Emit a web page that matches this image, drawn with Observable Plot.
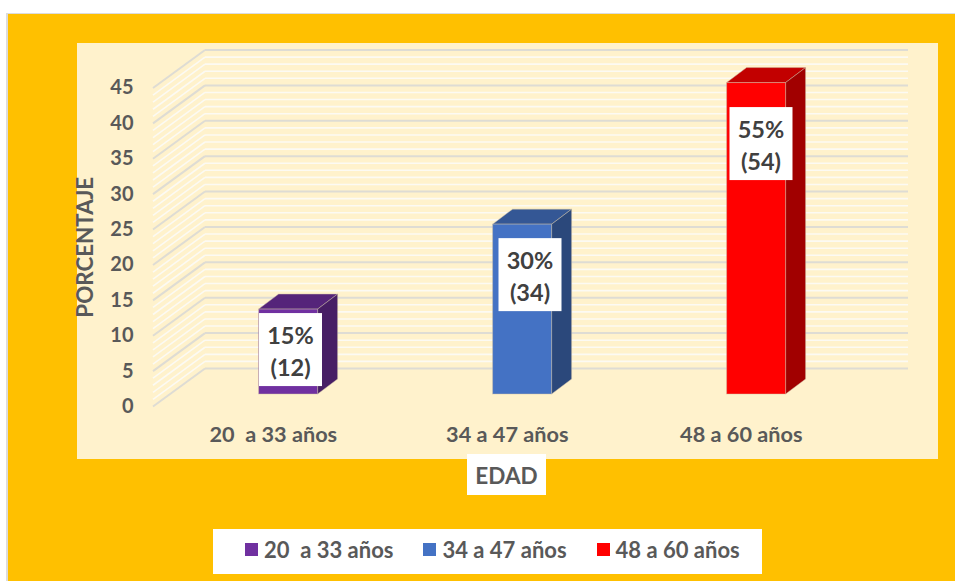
<!DOCTYPE html>
<html lang="es">
<head>
<meta charset="utf-8">
<script src="https://cdn.jsdelivr.net/npm/d3@7"></script>
<script src="https://cdn.jsdelivr.net/npm/@observablehq/plot@0.6"></script>
<style>
  html, body { margin: 0; padding: 0; background: #fff; overflow: hidden; }
  body { width: 955px; height: 581px; position: relative; font-family: Lato, "Open Sans", sans-serif; font-weight: 700; color: #595959; }
  #gold { position: absolute; left: 6px; top: 13px; right: 0; bottom: 0; background: #FFC000; border-left: 2px solid #dcdcdc; border-top: 1px solid #dcdcdc; }
  #panel { position: absolute; left: 77px; top: 43px; width: 861px; height: 416px; background: #FFF2CC; }
  #chart { position: absolute; left: 0; top: 0; }
  #chart svg { display: block; background: transparent; overflow: visible; }
  #xtitle { position: absolute; left: 467px; top: 454px; width: 79px; height: 41px; background: #fff; font-size: 22.5px; line-height: 43px; text-align: center; }
  #legend { position: absolute; left: 213px; top: 529px; width: 517px; height: 41px; padding: 0 0 4px 32px; background: #fff; display: flex; align-items: center; gap: 30px; font-size: 22px; white-space: pre; }
  #legend span.item { display: flex; align-items: center; gap: 6px; }
  #legend i { display: block; width: 13px; height: 13px; }
</style>
</head>
<body>
<div id="gold"></div>
<div id="panel"></div>
<div id="chart"></div>
<div id="xtitle">EDAD</div>
<div id="legend"></div>
<script>
const categories = ["20  a 33 años", "34 a 47 años", "48 a 60 años"];
const values = [12, 24, 44];
const labels = ["15%\n(12)", "30%\n(34)", "55%\n(54)"];
const colors = ["#7030A0", "#4472C4", "#FF0000"];
const yTicks = [0, 5, 10, 15, 20, 25, 30, 35, 40, 45];
const minorTicks = [1,2,3,4,6,7,8,9,11,12,13,14,16,17,18,19,21,22,23,24,26,27,28,29,31,32,33,34,36,37,38,39,41,42,43,44];
const yTitle = "PORCENTAJE";

// Styling of the fake 3D: pixel offsets, not data.
const wall = {front: 153, back: 205, right: 908, rise: 38};
const depth = {dx: 20, dy: -15};
const barShift = {dx: 15.3, dy: -12};
const labelShift = [{dx: 1.9, dy: 40}, {dx: 7.4, dy: 50}, {dx: 4.4, dy: 60.5}];
const labelBox = {w: 63, h: 73};

const rows = categories.map((c, i) => ({category: c, value: values[i], label: labels[i], color: colors[i]}));
const SVGNS = "http://www.w3.org/2000/svg";

function shade(hex, k) {
  const c = d3.rgb(hex);
  return d3.rgb(c.r * k, c.g * k, c.b * k).formatHex();
}

// Draws each rule as the floor-to-wall slope plus the back-wall line.
function wallLines(index, scales, vals, dims, ctx, next) {
  const g = next(index, scales, vals, dims, ctx);
  d3.select(g).selectAll("line").each(function () {
    const y = +this.getAttribute("y1");
    const slope = this.cloneNode();
    slope.setAttribute("x1", wall.front); slope.setAttribute("y1", y);
    slope.setAttribute("x2", wall.back); slope.setAttribute("y2", y - wall.rise);
    this.parentNode.insertBefore(slope, this);
    this.setAttribute("x1", wall.back); this.setAttribute("x2", wall.right);
    this.setAttribute("y1", y - wall.rise); this.setAttribute("y2", y - wall.rise);
  });
  return g;
}

// Adds the top and side faces to each bar rectangle.
function barFaces(index, scales, vals, dims, ctx, next) {
  const g = next(index, scales, vals, dims, ctx);
  d3.select(g).selectAll("rect").each(function (i) {
    const x = +this.getAttribute("x"), y = +this.getAttribute("y");
    const w = +this.getAttribute("width"), h = +this.getAttribute("height");
    const base = colors[i];
    const add = (pts, k) => {
      const p = document.createElementNS(SVGNS, "polygon");
      p.setAttribute("points", pts.map(q => q.join(",")).join(" "));
      p.setAttribute("fill", shade(base, k));
      p.setAttribute("stroke", "#cbbfa6");
      p.setAttribute("stroke-opacity", 0.45);
      p.setAttribute("stroke-width", 1);
      this.parentNode.insertBefore(p, this);
    };
    add([[x, y], [x + depth.dx, y + depth.dy], [x + w + depth.dx, y + depth.dy], [x + w, y]], 0.76);
    add([[x + w, y], [x + w + depth.dx, y + depth.dy], [x + w + depth.dx, y + h + depth.dy], [x + w, y + h]], 0.63);
  });
  return g;
}

// Puts a white box behind each data label.
function whiteBox(index, scales, vals, dims, ctx, next) {
  const g = next(index, scales, vals, dims, ctx);
  d3.select(g).selectAll("text").each(function () {
    const m = /translate\(([-\d.]+),\s*([-\d.]+)\)/.exec(this.getAttribute("transform") || "");
    if (!m) return;
    const r = document.createElementNS(SVGNS, "rect");
    r.setAttribute("x", +m[1] - labelBox.w / 2);
    r.setAttribute("y", +m[2] - labelBox.h / 2);
    r.setAttribute("width", labelBox.w);
    r.setAttribute("height", labelBox.h);
    r.setAttribute("fill", "#fff");
    r.setAttribute("stroke", "none");
    this.parentNode.insertBefore(r, this);
  });
  return g;
}

const plot = Plot.plot({
  width: 955,
  height: 581,
  marginLeft: 155.8,
  marginRight: 97.2,
  marginTop: 87.5,
  marginBottom: 175,
  style: {fontFamily: "Lato, 'Open Sans', sans-serif", fontWeight: 700, background: "transparent", overflow: "visible"},
  x: {type: "band", domain: categories, paddingInner: 0.7479, paddingOuter: 0.374, align: 0.5, round: false},
  y: {domain: [0, 45], ticks: yTicks},
  marks: [
    Plot.ruleY(minorTicks, {stroke: "#fcfaf3", strokeWidth: 1.6, render: wallLines}),
    Plot.ruleY(yTicks, {stroke: "#dedcd4", strokeWidth: 2, render: wallLines}),
    Plot.barY(rows, {
      x: "category", y: "value", fill: "color",
      stroke: "#cbbfa6", strokeOpacity: 0.45, strokeWidth: 1,
      dx: barShift.dx, dy: barShift.dy, render: barFaces
    }),
    ...rows.map((r, i) => Plot.text([r], {
      x: "category", y: "value", text: "label",
      dx: barShift.dx + labelShift[i].dx, dy: barShift.dy + labelShift[i].dy,
      fill: "#404040", fontSize: 23.5, lineHeight: 1.35, render: whiteBox
    })),
    Plot.axisY({ticks: yTicks, tickSize: 0, tickPadding: 22.8, fontSize: 20, fill: "#595959", label: null}),
    Plot.axisX({tickSize: 0, tickPadding: 20, fontSize: 21.7, fill: "#595959", label: null}),
    Plot.text([yTitle], {frameAnchor: "left", textAnchor: "middle", rotate: -90, dx: -70.8, fontSize: 22.4, fill: "#595959"})
  ]
});
document.getElementById("chart").appendChild(plot);

const legend = document.getElementById("legend");
categories.forEach((c, i) => {
  const item = document.createElement("span");
  item.className = "item";
  const sw = document.createElement("i");
  sw.style.background = colors[i];
  const t = document.createElement("span");
  t.textContent = c;
  item.append(sw, t);
  legend.append(item);
});
</script>
</body>
</html>
